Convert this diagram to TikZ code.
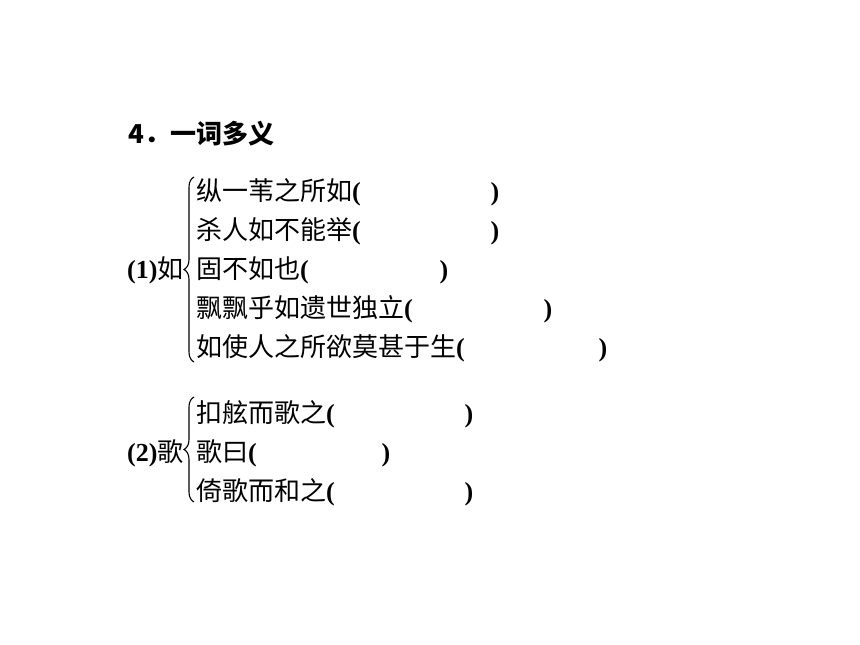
\documentclass[tikz,border=0pt]{standalone}
\usepackage{fontspec}
\setmainfont{Liberation Serif}
\newfontfamily\cjk{Noto Sans CJK SC}
\usetikzlibrary{decorations.pathreplacing}
\newcommand{\po}{\textbf{(}}
\newcommand{\pc}{\textbf{)}}
\tikzset{
    txt/.style={anchor=base west,inner sep=0pt,font=\fontsize{26}{26}\selectfont},
    par/.style={anchor=base,inner sep=0pt,font=\fontsize{26}{26}\selectfont},
    brc/.style={decorate,decoration={brace,amplitude=10pt},line width=1.1pt}
}

\begin{document}
\begin{tikzpicture}[x=1pt,y=1pt]
    \useasboundingbox (0,0) rectangle (860,-645);
    \node[txt] (title) at (128,-143) {\cjk\bfseries 4．一词多义};
    % (1) ru
    \node[txt] (ru) at (127,-278) {\textbf{(1)}{\cjk 如}};
    \foreach \t/\y/\x [count=\i] in {纵一苇之所如/200/495,杀人如不能举/239/495,固不如也/278/444,飘飘乎如遗世独立/317/548,如使人之所欲莫甚于生/356/603}{
        \node[txt] (a\i) at (196,-\y) {{\cjk \t}\po};
        \node[par] (ac\i) at (\x,-\y) {\pc};
    }
    \coordinate (rutop) at (194,-177);
    \coordinate (rubot) at (194,-362);
    \draw[brc] (rubot) -- (rutop);
    % (2) ge
    \node[txt] (ge) at (127,-461) {\textbf{(2)}{\cjk 歌}};
    \foreach \t/\y/\x [count=\i] in {扣舷而歌之/422/469,歌曰/461/386,倚歌而和之/500/469}{
        \node[txt] (b\i) at (196,-\y) {{\cjk \t}\po};
        \node[par] (bc\i) at (\x,-\y) {\pc};
    }
    \coordinate (getop) at (194,-397);
    \coordinate (gebot) at (194,-502);
    \draw[brc] (gebot) -- (getop);
\end{tikzpicture}
\end{document}
